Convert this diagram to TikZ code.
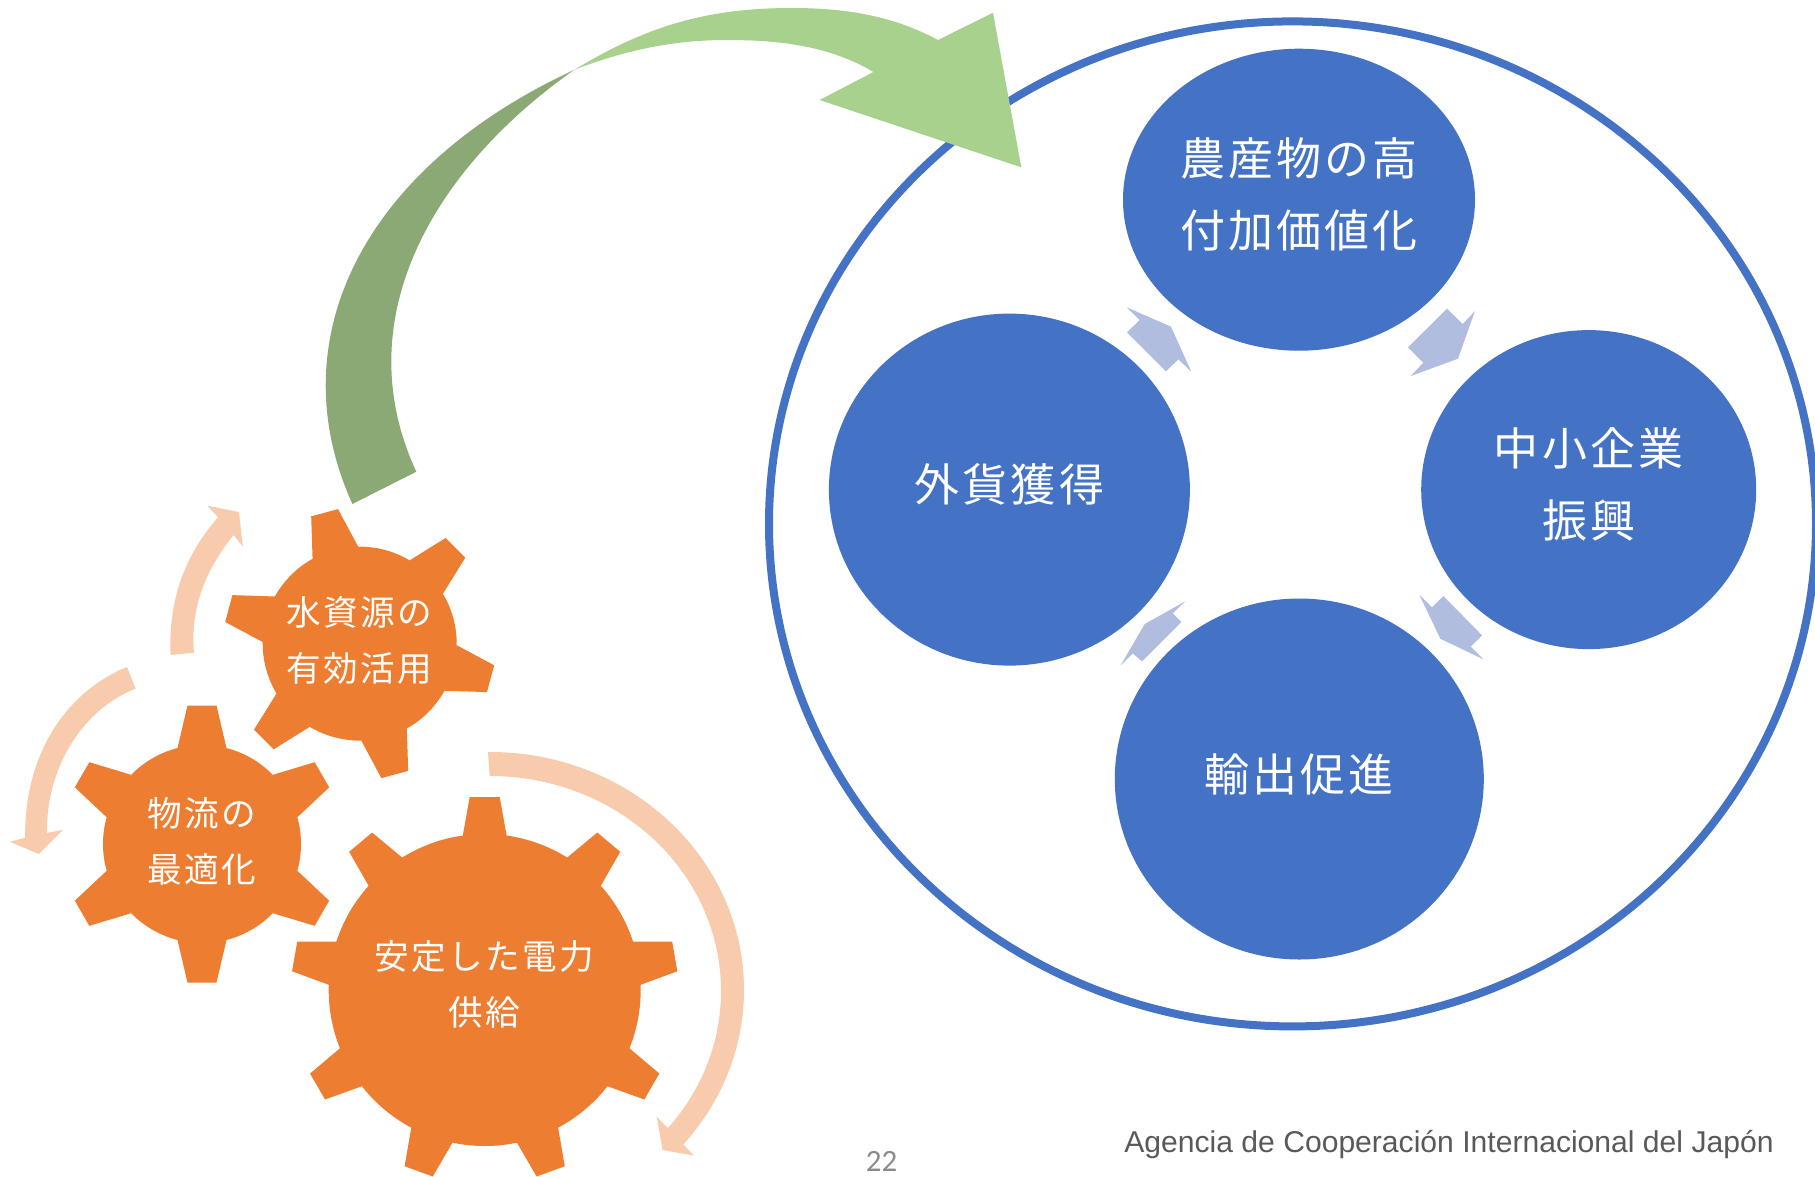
\documentclass[tikz,border=0pt]{standalone}
\usepackage{fontspec}
\usepackage{xcolor}
\usetikzlibrary{shapes.geometric}
\newfontfamily\jpfont[LetterSpace=7]{Noto Sans CJK JP}
\newfontfamily\latinfont{Liberation Sans}
\newfontfamily\pagefont{Carlito}
\definecolor{mainblue}{HTML}{4472C4}
\definecolor{paleblue}{HTML}{B1BDDF}
\definecolor{gearorange}{HTML}{ED7D31}
\definecolor{paleorange}{HTML}{F7CBAC}
\definecolor{lightgreen}{HTML}{A9D18E}
\definecolor{darkgreen}{HTML}{8AA974}
\tikzset{%
  bigcirc/.style  = {ellipse, fill=mainblue, inner sep=0pt}, % Topic
  bigtext/.style  = {text=white, align=center, inner sep=0pt, yshift=5pt,
    font=\jpfont\fontsize{45}{72}\selectfont},
  gearfill/.style = {fill=gearorange}, % Gear body and teeth
  geartext/.style = {text=white, align=center, inner sep=0pt,
    font=\jpfont\fontsize{34.6}{56}\selectfont},
  turn/.style     = {fill=paleorange}, % Arrows round the gears
  link/.style     = {fill=paleblue} % Arrows between topics
}

\begin{document}
\begin{tikzpicture}[x=1pt, y=-1pt]
\useasboundingbox (0,0) rectangle (1815,1176);
\clip (0,0) rectangle (1815,1176);

% outer ring
\node at (1292.5,523.9)[draw=mainblue,line width=8pt,ellipse,inner sep=0pt,outer sep=0pt,
    minimum width=1047pt,minimum height=1005pt,name=ring]{};

% topics
\node at (1299,199.7)[bigcirc,minimum width=352pt,minimum height=302pt,name=crops,
    label={[bigtext]center:農産物の高\\付加価値化}]{};
\node at (1009.4,489.6)[bigcirc,minimum width=361pt,minimum height=352pt,name=forex,
    label={[bigtext]center:外貨獲得}]{};
\node at (1588.7,489.6)[bigcirc,minimum width=335pt,minimum height=319pt,name=smes,
    label={[bigtext]center:中小企業\\振興}]{};
\node at (1299.3,779)[bigcirc,minimum width=369pt,minimum height=361pt,name=exports,
    label={[bigtext]center:輸出促進}]{};

\fill[link] (1126.7,307.3) -- (1171,326.7) -- (1191.3,371.7) -- (1178.3,359.3) -- (1166,371.3) -- (1127,332.3) -- (1139.7,320) -- cycle;
\fill[link] (1475,311) -- (1458,358.7) -- (1410.7,376) -- (1423.3,362.7) -- (1408,347.3) -- (1447,308.7) -- (1462.7,324) -- cycle;
\fill[link] (1419.3,594.7) -- (1432,607.3) -- (1443.3,596) -- (1482,635.3) -- (1470.7,646.7) -- (1483.3,659.3) -- (1440.3,638.7) -- cycle;
\fill[link] (1185.3,601.3) -- (1172.7,613.3) -- (1181.3,622) -- (1142,661.3) -- (1132.7,653.3) -- (1120.7,665.3) -- (1144.7,624) -- cycle;

% green arrow
\fill[darkgreen] (352.4,504) .. controls (276,335) and (368,165) .. (574,70)
    .. controls (432,170) and (346,320) .. (416.3,471.7) -- cycle;
\fill[lightgreen] (574,70) .. controls (645,27) and (705,8) .. (792,8)
    .. controls (840,8) and (890,14) .. (938,40) -- (993,12.7) -- (1021.3,167.3)
    -- (819.6,100) -- (873.4,72) .. controls (830,46) and (780,40) .. (726.6,40)
    .. controls (680,40) and (630,48) .. (574,70) -- cycle;

% gears
\begin{scope}[shift={(359.7,643.6)}]
  \fill[gearfill] (0,0) circle[radius=97];
  \foreach \a in {15,75,...,315}
    \fill[gearfill,rotate=\a] (-23.6,-94) -- (-13.9,-135.5) -- (13.9,-135.5) -- (23.6,-94) -- cycle;
\end{scope}
\begin{scope}[shift={(202,844)}]
  \fill[gearfill] (0,0) circle[radius=99];
  \foreach \a in {0,60,...,300}
    \fill[gearfill,rotate=\a] (-24.5,-96) -- (-14.5,-138.5) -- (14.5,-138.5) -- (24.5,-96) -- cycle;
\end{scope}
\begin{scope}[shift={(484.7,990)}]
  \fill[gearfill] (0,0) circle[radius=156];
  \foreach \a in {0,40,...,320}
    \fill[gearfill,rotate=\a] (-22,-154) -- (-15,-193) -- (15,-193) -- (22,-154) -- cycle;
\end{scope}

\node at (359,640)[geartext,name=water]{水資源の\\有効活用};
\node at (202,841)[geartext,name=logistics]{物流の\\最適化};
\node at (484.7,984)[geartext,name=power]{安定した電力\\供給};

% arrows round the gears
\fill[turn] (170.6,655) .. controls (168,600) and (185,555) .. (218,517.3)
    -- (207.5,505.7) -- (239,512) -- (242.8,546.6) -- (233.6,535)
    .. controls (205,570) and (190,610) .. (194,652.7) -- cycle;
\fill[turn] (127,667) .. controls (70,690) and (24,750) .. (25.2,837.8)
    -- (9.7,841.7) -- (38.8,854) -- (63,829.8) -- (47,832.9)
    .. controls (46,765) and (85,708) .. (135.7,688.6) -- cycle;
\fill[turn] (488,752) -- (490,752) arc[start angle=-90,end angle=40.5,x radius=254,y radius=238]
    -- (694,1155.5) -- (662.6,1150) -- (656.8,1117) -- (668,1128)
    arc[start angle=39.6,end angle=-90,x radius=231,y radius=215] -- (489.6,775) -- cycle;

% texts
\node at (881.5,1161.5)[text=black!46,font=\pagefont\fontsize{31}{33}\selectfont,name=pageno]{22};
\node at (1449,1145)[text=black!65,font=\latinfont\fontsize{30.1}{32}\selectfont,name=agency]{Agencia de Cooperación Internacional del Japón};
\end{tikzpicture}
\end{document}
